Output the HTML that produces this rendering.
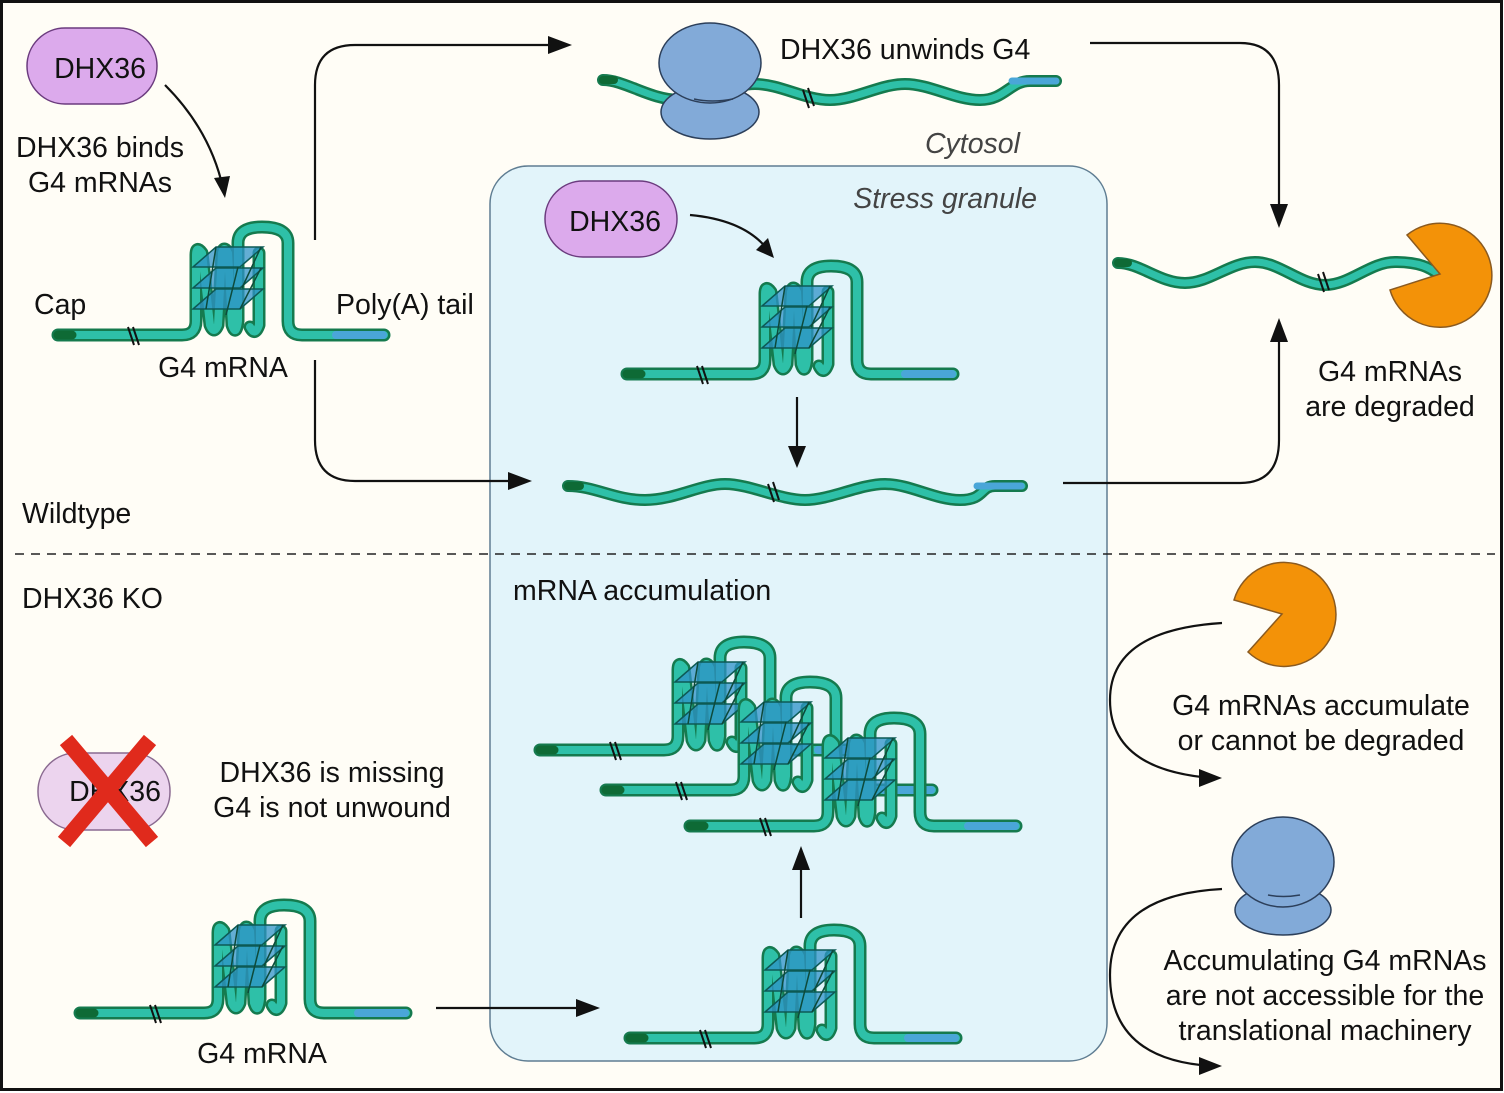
<!DOCTYPE html>
<html><head><meta charset="utf-8"><style>
html,body{margin:0;padding:0;background:#fff}
svg{display:block}
text{font-family:"Liberation Sans",Arial,sans-serif;font-size:28.5px;fill:#111}
</style></head><body>
<svg width="1504" height="1093" viewBox="0 0 1504 1093" xmlns="http://www.w3.org/2000/svg">
<defs>
<g id="g4">
  <g fill="none" stroke-linecap="round" stroke-linejoin="round">
    <path d="M0,0 H124 Q138,0 138,-14 V-80 Q138,-90 144,-82 L152,-10 Q156,0 160,-10 L164,-82 Q166,-90 170,-82 L174,-10 Q178,2 180,-14 V-92 Q180,-108 204,-108 Q230,-108 230,-92 V-14 Q230,0 244,0 H326" stroke="#157a4e" stroke-width="13"/>
    <path d="M192,-8 Q197,2 201,-10 V-82" stroke="#157a4e" stroke-width="13"/>
    <path d="M0,0 H124 Q138,0 138,-14 V-80 Q138,-90 144,-82 L152,-10 Q156,0 160,-10 L164,-82 Q166,-90 170,-82 L174,-10 Q178,2 180,-14 V-92 Q180,-108 204,-108 Q230,-108 230,-92 V-14 Q230,0 244,0 H326" stroke="#2ec0a8" stroke-width="8"/>
    <path d="M192,-8 Q197,2 201,-10 V-82" stroke="#2ec0a8" stroke-width="8"/>
    <path d="M0,0 H14" stroke="#0e6a35" stroke-width="9"/>
    <path d="M278,0 H325" stroke="#4aa6d8" stroke-width="8"/>
  </g>
  <g fill="#2f93c8" fill-opacity="0.75" stroke="#0d5a55" stroke-width="1.5">
    <polygon points="135,-68 158,-88 205,-88 182,-68"/>
    <polygon points="135,-47 158,-67 205,-67 182,-47"/>
    <polygon points="135,-26 158,-46 205,-46 182,-26"/>
  </g>
  <g stroke="#0d4a3a" stroke-width="1.5" fill="none">
    <path d="M158,-88 L148,-26 M180,-68 L168,-20 M203,-88 L184,-47 M203,-67 L182,-26"/>
  </g>
  <path d="M70,-8 L76,10 M75,-8 L81,10" stroke="#111" stroke-width="2" fill="none"/>
</g>
</defs>
<rect x="1.5" y="1.5" width="1500" height="1088" fill="#fffdf6" stroke="#111" stroke-width="3"/>
<rect x="490" y="166" width="617" height="895" rx="38" fill="#e2f4fa" stroke="#5f7d92" stroke-width="1.5"/>
<line x1="15" y1="554" x2="1495" y2="554" stroke="#222" stroke-width="1.5" stroke-dasharray="9,7"/>

<use href="#g4" transform="translate(58,335)"/>
<use href="#g4" transform="translate(627,374)"/>
<use href="#g4" transform="translate(80,1013)"/>
<use href="#g4" transform="translate(630,1038)"/>
<use href="#g4" transform="translate(540,750)"/>
<use href="#g4" transform="translate(606,790)"/>
<use href="#g4" transform="translate(690,826)"/>

<g fill="none" stroke-linecap="round" stroke-linejoin="round">
  <path d="M603,80 C625,80 650,100 680,100 S730,84 755,84 S805,100 830,100 S880,84 905,84 S955,100 980,100 S1010,81 1030,81 L1056,81" stroke="#157a4e" stroke-width="12"/>
  <path d="M603,80 C625,80 650,100 680,100 S730,84 755,84 S805,100 830,100 S880,84 905,84 S955,100 980,100 S1010,81 1030,81 L1056,81" stroke="#2ec0a8" stroke-width="7"/>
  <path d="M603,80 H614" stroke="#0e6a35" stroke-width="8"/>
  <path d="M1012,81 H1056" stroke="#4aa6d8" stroke-width="7"/>

  <path d="M568,486 C595,486 615,500 645,500 S700,484 725,484 S780,500 805,500 S860,484 885,484 S935,500 960,500 S980,486 995,486 L1022,486" stroke="#157a4e" stroke-width="12"/>
  <path d="M568,486 C595,486 615,500 645,500 S700,484 725,484 S780,500 805,500 S860,484 885,484 S935,500 960,500 S980,486 995,486 L1022,486" stroke="#2ec0a8" stroke-width="7"/>
  <path d="M568,486 H580" stroke="#0e6a35" stroke-width="8"/>
  <path d="M977,486 H1021" stroke="#4aa6d8" stroke-width="7"/>

  <path d="M1118,263 C1140,263 1160,283 1185,283 S1230,262 1255,262 S1300,285 1325,285 S1370,262 1395,262 S1430,268 1438,274" stroke="#157a4e" stroke-width="12"/>
  <path d="M1118,263 C1140,263 1160,283 1185,283 S1230,262 1255,262 S1300,285 1325,285 S1370,262 1395,262 S1430,268 1438,274" stroke="#2ec0a8" stroke-width="7"/>
  <path d="M1118,263 H1128" stroke="#0e6a35" stroke-width="8"/>
</g>
<g stroke="#111" stroke-width="2"><path d="M803,90 L809,108 M808,88 L814,106 M768,484 L774,502 M773,482 L779,500 M1318,274 L1324,292 M1323,272 L1329,290"/></g>

<g fill="#82aad8" stroke="#2c3f5a" stroke-width="1.5">
  <ellipse cx="710" cy="112" rx="49" ry="27"/>
  <ellipse cx="710" cy="63" rx="51" ry="40"/>
  <ellipse cx="1283" cy="910" rx="48" ry="25"/>
  <ellipse cx="1283" cy="862" rx="51" ry="45"/>
</g>
<path d="M694,99 Q712,103 733,99" stroke="#2c3f5a" stroke-width="1.5" fill="none"/>
<path d="M1268,895 Q1283,898 1300,895" stroke="#2c3f5a" stroke-width="1.5" fill="none"/>

<path d="M1440,274 L1407,235 A52,52 0 1,1 1390,290 Z" fill="#f39208" stroke="#8a5a20" stroke-width="1.5"/>
<path d="M1282,614 L1234,600 A52,52 0 1,1 1248,652 Z" fill="#f39208" stroke="#8a5a20" stroke-width="1.5"/>

<rect x="27" y="28" width="130" height="76" rx="38" fill="#dcaaec" stroke="#6b3b7e" stroke-width="1.5"/>
<text x="100" y="78" text-anchor="middle">DHX36</text>
<rect x="545" y="181" width="132" height="76" rx="38" fill="#dcaaec" stroke="#6b3b7e" stroke-width="1.5"/>
<text x="615" y="231" text-anchor="middle">DHX36</text>
<rect x="38" y="753" width="132" height="77" rx="38" fill="#ecd4ee" stroke="#8a6a90" stroke-width="1.5"/>
<text x="115" y="801" text-anchor="middle">DHX36</text>
<path d="M66,740 L152,842 M150,740 L64,842" stroke="#e02a1c" stroke-width="16"/>

<g fill="none" stroke="#111" stroke-width="2.2">
  <path d="M165,85 Q210,130 223,188"/>
  <path d="M315,240 V85 Q315,45 355,45 H562"/>
  <path d="M315,360 V440 Q315,481 355,481 H522"/>
  <path d="M1090,43 H1240 Q1279,43 1279,85 V218"/>
  <path d="M1063,483 H1240 Q1279,483 1279,440 V328"/>
  <path d="M690,215 Q745,220 768,250"/>
  <path d="M797,397 V458"/>
  <path d="M436,1008 H590"/>
  <path d="M801,918 V856"/>
  <path d="M1222,623 Q1110,630 1110,700 Q1110,770 1212,778"/>
  <path d="M1222,889 Q1110,895 1110,975 Q1110,1060 1212,1066"/>
</g>
<g fill="#111">
  <polygon points="225,198 214,178 230,176"/>
  <polygon points="572,45 548,36 548,54"/>
  <polygon points="532,481 508,472 508,490"/>
  <polygon points="1279,228 1270,204 1288,204"/>
  <polygon points="1279,318 1270,342 1288,342"/>
  <polygon points="774,258 756,250 768,238"/>
  <polygon points="797,468 788,446 806,446"/>
  <polygon points="600,1008 576,999 576,1017"/>
  <polygon points="801,846 792,870 810,870"/>
  <polygon points="1222,778 1199,769 1199,787"/>
  <polygon points="1222,1066 1199,1057 1199,1075"/>
</g>

<text x="100" y="157" text-anchor="middle">DHX36 binds</text>
<text x="100" y="192" text-anchor="middle">G4 mRNAs</text>
<text x="34" y="314">Cap</text>
<text x="336" y="314">Poly(A) tail</text>
<text x="223" y="377" text-anchor="middle">G4 mRNA</text>
<text x="780" y="59">DHX36 unwinds G4</text>
<text x="1020" y="153" text-anchor="end" style="font-style:italic;fill:#444">Cytosol</text>
<text x="1037" y="208" text-anchor="end" style="font-style:italic;fill:#444">Stress granule</text>
<text x="1390" y="381" text-anchor="middle">G4 mRNAs</text>
<text x="1390" y="416" text-anchor="middle">are degraded</text>
<text x="22" y="523">Wildtype</text>
<text x="22" y="608">DHX36 KO</text>
<text x="513" y="600">mRNA accumulation</text>
<text x="1321" y="715" text-anchor="middle">G4 mRNAs accumulate</text>
<text x="1321" y="750" text-anchor="middle">or cannot be degraded</text>
<text x="332" y="782" text-anchor="middle">DHX36 is missing</text>
<text x="332" y="817" text-anchor="middle">G4 is not unwound</text>
<text x="262" y="1063" text-anchor="middle">G4 mRNA</text>
<text x="1325" y="970" text-anchor="middle">Accumulating G4 mRNAs</text>
<text x="1325" y="1005" text-anchor="middle">are not accessible for the</text>
<text x="1325" y="1040" text-anchor="middle">translational machinery</text>
</svg>
</body></html>
